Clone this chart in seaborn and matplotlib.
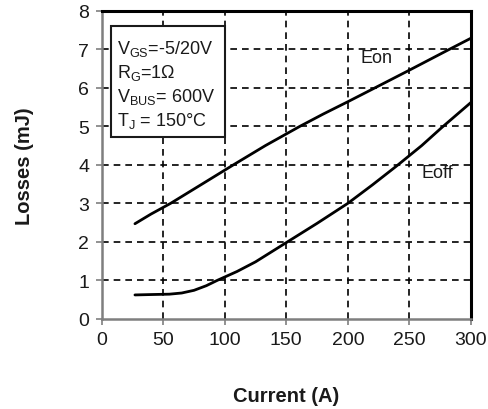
#!/usr/bin/env python3
"""
Switching losses vs. current (Eon / Eoff) recreated with seaborn.
"""

import pandas as pd
import matplotlib
matplotlib.use("Agg")
import matplotlib.pyplot as plt
from matplotlib.patches import Rectangle
import seaborn as sns

sns.set_theme(style="white")
plt.rcParams["font.family"] = ["Liberation Sans", "DejaVu Sans"]
plt.rcParams["mathtext.fontset"] = "custom"
plt.rcParams["mathtext.rm"] = "Liberation Sans"

# Eon curve (current in A, losses in mJ)
eon_current = [27, 40, 56, 80, 107, 133, 161, 180, 200, 222, 250, 280, 300]
eon_losses = [2.47, 2.72, 3.0, 3.47, 4.0, 4.5, 5.0, 5.32, 5.64, 6.0, 6.46, 6.96, 7.29]

# Eoff curve
eoff_current = [27, 40, 55, 65, 75, 85, 94, 110, 125, 151, 175, 200, 220, 240, 260, 276, 300]
eoff_losses = [0.62, 0.63, 0.64, 0.67, 0.74, 0.86, 1.0, 1.23, 1.48, 2.0, 2.48, 3.0,
               3.48, 3.98, 4.5, 4.96, 5.62]

x_ticks = [0, 50, 100, 150, 200, 250, 300]
y_ticks = [0, 1, 2, 3, 4, 5, 6, 7, 8]

conditions = ("V$\\mathregular{_{GS}}$=-5/20V\n"
              "R$\\mathregular{_G}$=1Ω\n"
              "V$\\mathregular{_{BUS}}$= 600V\n"
              "T$\\mathregular{_J}$ = 150°C")

df = pd.concat([
    pd.DataFrame({"Current": eon_current, "Losses": eon_losses, "curve": "Eon"}),
    pd.DataFrame({"Current": eoff_current, "Losses": eoff_losses, "curve": "Eoff"}),
])

fig = plt.figure(figsize=(4.89, 4.10), dpi=100)
ax = fig.add_axes([0.208, 0.22, 0.755, 0.751])

sns.lineplot(data=df, x="Current", y="Losses", units="curve", estimator=None,
             color="black", linewidth=2, sort=False, ax=ax)

ax.set_xlim(0, 300)
ax.set_ylim(0, 8)
ax.set_xticks(x_ticks)
ax.set_yticks(y_ticks)
ax.grid(True, color="black", linestyle=(0, (4, 3)), linewidth=1.2)
ax.set_axisbelow(True)
# no dashed grid on top of the frame
for lines in (ax.get_xgridlines(), ax.get_ygridlines()):
    lines[0].set_visible(False)
    lines[-1].set_visible(False)

for side in ["left", "bottom"]:
    ax.spines[side].set_color("#7f7f7f")
    ax.spines[side].set_linewidth(1.8)
for side in ["top", "right"]:
    ax.spines[side].set_color("black")
    ax.spines[side].set_linewidth(2.2)

ax.tick_params(axis="both", which="major", direction="out", length=4, width=1.2,
               color="#7f7f7f", labelsize=14, labelcolor="#1a1a1a", pad=5,
               bottom=True, left=True)

ax.set_xlabel("Current (A)", fontsize=14.5, fontweight="bold", labelpad=27, color="#1a1a1a")
ax.set_ylabel("Losses (mJ)", fontsize=14.5, fontweight="bold", labelpad=32, color="#1a1a1a")

ax.text(236, 6.8, "Eon", ha="right", va="center", fontsize=13, color="#1a1a1a")
ax.text(260, 3.79, "Eoff", ha="left", va="center", fontsize=13, color="#1a1a1a")

# conditions box
ax.add_patch(Rectangle((7.5, 4.73), 92.5, 2.88, facecolor="white", edgecolor="#1a1a1a",
                       linewidth=1.5, zorder=3))
ax.text(12.4, 6.1, conditions, ha="left", va="center", fontsize=13, color="#1a1a1a",
        linespacing=1.25, zorder=4)

plt.savefig("out.png", dpi=100)
plt.close()
